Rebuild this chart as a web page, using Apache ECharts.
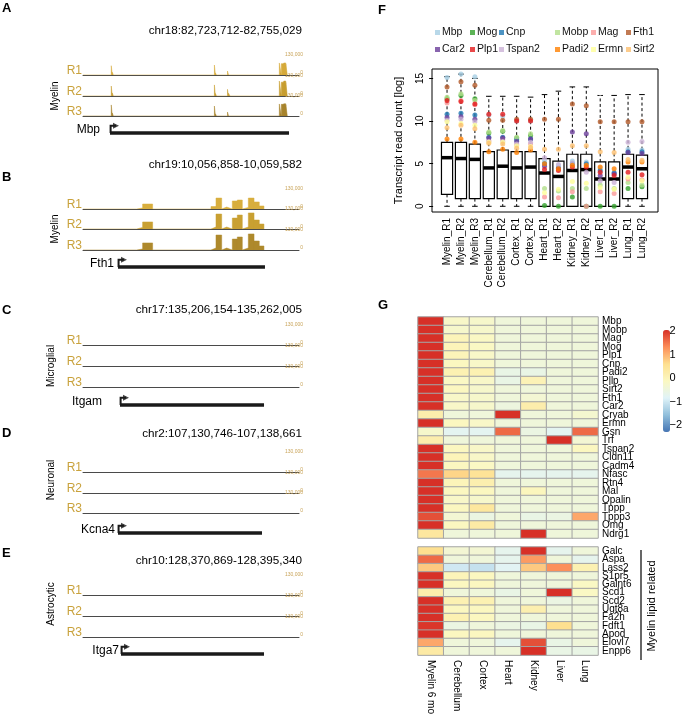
<!DOCTYPE html>
<html>
<head>
<meta charset="utf-8">
<script src="https://cdn.jsdelivr.net/npm/echarts@6/dist/echarts.min.js"></script>
<style>
  html, body { margin: 0; padding: 0; background: #fff; }
  #chart { width: 685px; height: 717px; }
</style>
</head>
<body>
<div id="chart"></div>
<script>
// ---------- A-E: coverage tracks (bp offsets from region start, counts) ----------
const regionNames = ['chr18:82,723,712-82,755,029', 'chr19:10,056,858-10,059,582', 'chr17:135,206,154-135,262,005', 'chr2:107,130,746-107,138,661', 'chr10:128,370,869-128,395,340']
const regionSpans = [31317, 2724, 55851, 7915, 24471]
const trackGenes = ['Mbp', 'Fth1', 'Itgam', 'Kcna4', 'Itga7']
const geneStarts = [3915, 441, 9568, 1282, 4305]
const geneEnds = [29870, 2295, 46807, 6559, 20507]
const cellTypes = ['Myelin', 'Myelin', 'Microglial', 'Neuronal', 'Astrocytic']
const repNames = ['R1', 'R2', 'R3']
const trackMax = 130000

const mbpBins = [[4100, 4250], [4250, 4400], [19050, 19200], [19200, 19350], [20950, 21100], [21100, 21300], [24150, 24300], [28464, 28750], [28750, 29100], [29100, 29400], [29400, 29624]]
const mbpR1 = [67000, 20000, 72000, 15000, 29000, 14000, 7000, 87000, 82000, 87000, 80000]
const mbpR2 = [72000, 22000, 80000, 18000, 48000, 20000, 10000, 108000, 100000, 108000, 98000]
const mbpR3 = [80000, 22000, 72000, 15000, 29000, 14000, 7000, 87000, 84000, 88000, 82000]

const fth1Bins = [[677, 752], [752, 878], [1614, 1677], [1677, 1749], [1749, 1812], [1883, 1946], [1946, 2009], [2009, 2085], [2085, 2157], [2157, 2223], [2223, 2282]]
const fth1R1 = [7000, 36000, 18000, 79000, 14000, 58000, 65000, 11000, 79000, 51000, 22000]
const fth1R2 = [11000, 51000, 14000, 108000, 14000, 79000, 101000, 14000, 116000, 65000, 36000]
const fth1R3 = [7000, 51000, 14000, 108000, 14000, 79000, 94000, 14000, 116000, 65000, 29000]

// ---------- F: transcript counts ----------
const sampleNames = ['Myelin_R1', 'Myelin_R2', 'Myelin_R3', 'Cerebellum_R1', 'Cerebellum_R2', 'Cortex_R1', 'Cortex_R2', 'Heart_R1', 'Heart_R2', 'Kidney_R1', 'Kidney_R2', 'Liver_R1', 'Liver_R2', 'Lung_R1', 'Lung_R2']
const boxMin = [0, 0, 0, 0, 0, 0, 0, 0, 0, 0, 0, 0, 0, 0, 0]
const boxQ1 = [1.4, 0.9, 0.9, 0.9, 0.9, 0.9, 0.9, 0, 0, 0, 0, 0, 0, 0.9, 0.9]
const boxMedian = [5.7, 5.6, 5.5, 4.5, 4.7, 4.5, 4.6, 3.9, 3.5, 4.2, 4.3, 3.2, 3.2, 4.6, 4.4]
const boxQ3 = [7.5, 7.5, 7.3, 6.4, 6.6, 6.4, 6.4, 5.6, 5.3, 6.1, 6.1, 5.2, 5.2, 6.1, 6.0]
const boxMax = [15.2, 15.5, 15.0, 12.9, 12.9, 12.9, 12.8, 13.1, 13.5, 14.0, 14.0, 13.0, 13.0, 13.1, 13.1]
const outlierSample = [12, 13]
const outlierValue = [13.3, 13.5]

const dotMbp = [15.1, 15.5, 15.2, 10.7, 10.6, 10.0, 10.0, 5.3, 4.8, 5.3, 5.2, 4.5, 4.0, 6.7, 6.6]
const dotMog = [12.6, 13.0, 12.6, 8.6, 8.8, 8.0, 8.3, 0.1, 0.0, 1.1, 0.0, 0.0, 0.0, 2.1, 2.3]
const dotCnp = [10.8, 10.9, 10.7, 8.1, 8.1, 7.8, 7.9, 5.0, 4.5, 5.0, 5.0, 4.2, 3.9, 6.4, 6.4]
const dotMobp = [12.8, 13.2, 12.4, 8.7, 8.9, 8.1, 8.5, 2.1, 1.8, 2.1, 2.1, 2.5, 2.1, 2.8, 2.5]
const dotMag = [12.1, 12.4, 11.9, 7.7, 7.8, 7.2, 7.3, 1.1, 1.0, 1.7, 0.0, 1.7, 1.5, 3.2, 3.1]
const dotFth1 = [14.0, 14.6, 14.2, 10.1, 10.1, 10.2, 10.2, 10.2, 10.2, 12.0, 11.8, 9.9, 9.9, 9.9, 9.9]
const dotCar2 = [10.4, 10.5, 10.2, 8.0, 8.0, 7.6, 7.9, 4.7, 4.4, 8.7, 8.5, 3.6, 3.8, 6.3, 6.2]
const dotPlp1 = [12.4, 12.3, 12.0, 10.8, 10.8, 10.0, 10.0, 4.3, 4.2, 4.6, 4.6, 4.0, 3.6, 4.0, 3.7]
const dotTspan2 = [10.1, 10.2, 9.9, 7.6, 7.6, 7.3, 7.5, 5.7, 4.9, 5.1, 4.0, 3.0, 2.8, 7.5, 7.6]
const dotPadi2 = [7.9, 7.9, 7.5, 6.4, 6.7, 6.3, 6.6, 5.0, 4.4, 4.8, 4.8, 4.6, 4.4, 5.2, 5.2]
const dotErmn = [9.9, 9.7, 9.5, 7.5, 7.5, 7.1, 7.0, 1.6, 2.0, 2.9, 2.7, 2.2, 2.0, 3.4, 3.0]
const dotSirt2 = [9.2, 9.5, 9.1, 7.4, 7.3, 6.8, 6.9, 6.7, 6.7, 7.1, 7.1, 6.4, 6.3, 5.5, 5.4]
const dotGenes = ['Mbp', 'Mog', 'Cnp', 'Mobp', 'Mag', 'Fth1', 'Car2', 'Plp1', 'Tspan2', 'Padi2', 'Ermn', 'Sirt2']
const dotValues = [dotMbp, dotMog, dotCnp, dotMobp, dotMag, dotFth1, dotCar2, dotPlp1, dotTspan2, dotPadi2, dotErmn, dotSirt2]

// ---------- G: z-scores ----------
const tissues = ['Myelin 6 mo', 'Cerebellum', 'Cortex', 'Heart', 'Kidney', 'Liver', 'Lung']
const topGenes = ['Mbp', 'Mobp', 'Mag', 'Mog', 'Plp1', 'Cnp', 'Padi2', 'Pllp', 'Sirt2', 'Fth1', 'Car2', 'Cryab', 'Ermn', 'Gsn', 'Trf', 'Tspan2', 'Cldn11', 'Cadm4', 'Nfasc', 'Rtn4', 'Mal', 'Opalin', 'Tppp', 'Tppp3', 'Omg', 'Ndrg1']
const topZ = [
  [2.3, -0.2, -0.25, -0.45, -0.45, -0.45, -0.45],
  [2.3, -0.25, -0.25, -0.45, -0.45, -0.45, -0.45],
  [2.3, 0.0, -0.15, -0.45, -0.45, -0.45, -0.45],
  [2.3, 0.0, -0.15, -0.45, -0.45, -0.45, -0.45],
  [2.3, 0.0, -0.2, -0.45, -0.45, -0.45, -0.45],
  [2.3, -0.1, -0.2, -0.45, -0.45, -0.45, -0.45],
  [2.2, 0.1, 0.1, -0.6, -0.6, -0.45, -0.45],
  [2.3, -0.15, -0.2, -0.6, 0.05, -0.45, -0.45],
  [2.3, -0.1, -0.25, -0.45, -0.45, -0.45, -0.45],
  [2.2, -0.2, -0.25, -0.45, -0.35, -0.45, -0.45],
  [2.2, -0.2, -0.25, -0.5, 0.2, -0.45, -0.45],
  [0.2, -0.45, -0.45, 2.3, -0.45, -0.45, -0.3],
  [2.3, -0.1, -0.2, -0.45, -0.45, -0.45, -0.45],
  [-0.25, -0.75, -0.75, 1.6, -0.55, -0.75, 1.6],
  [0.2, -0.45, -0.45, -0.45, -0.45, 2.3, -0.35],
  [2.3, -0.1, -0.2, -0.45, -0.45, -0.45, -0.1],
  [2.3, 0.0, -0.2, -0.45, -0.45, -0.45, -0.45],
  [2.3, -0.1, -0.15, -0.45, -0.45, -0.45, -0.45],
  [1.5, 0.7, 0.5, -0.7, -0.7, -0.7, -0.7],
  [2.2, 0.0, 0.15, -0.45, -0.45, -0.45, -0.45],
  [2.3, -0.1, -0.1, -0.45, -0.05, -0.45, -0.45],
  [2.3, -0.2, -0.25, -0.45, -0.45, -0.45, -0.45],
  [2.3, -0.1, 0.4, -0.45, -0.45, -0.45, -0.45],
  [1.8, -0.35, -0.55, -0.45, -0.6, -0.55, 1.1],
  [2.3, -0.1, 0.3, -0.45, -0.45, -0.45, -0.45],
  [0.4, -0.45, -0.45, -0.45, 2.3, -0.45, -0.45],
]
const lipidGenes = ['Galc', 'Aspa', 'Lass2', 'S1pr5', 'Galnt6', 'Scd1', 'Scd2', 'Ugt8a', 'Fa2h', 'Fdft1', 'Apod', 'Elovl7', 'Enpp6']
const lipidZ = [
  [0.6, -0.35, -0.35, -0.7, 2.3, -0.7, -0.45],
  [1.6, -0.45, -0.45, -0.7, 1.2, -0.45, -0.7],
  [0.8, -1.0, -1.1, -0.8, 0.8, 1.3, 0.1],
  [2.3, 0.0, -0.1, -0.45, -0.45, -0.45, -0.45],
  [2.3, -0.1, -0.1, -0.45, -0.45, -0.45, -0.15],
  [0.2, -0.45, -0.45, -0.6, -0.45, 2.3, -0.15],
  [2.2, 0.1, 0.1, -0.45, -0.45, -0.55, -0.45],
  [2.3, -0.1, -0.1, -0.45, 0.15, -0.45, -0.45],
  [2.3, 0.1, -0.1, -0.45, -0.45, -0.45, -0.45],
  [2.0, -0.55, -0.45, -0.55, -0.6, 0.6, -0.45],
  [2.3, -0.1, -0.1, -0.45, -0.45, -0.45, -0.45],
  [1.1, -0.45, -0.45, -0.7, 1.8, -0.6, -0.45],
  [0.3, -0.45, -0.45, -0.45, 2.3, -0.6, -0.6],
]
const colorTicks = [-2, -1, 0, 1, 2]

// ---------- layout / styles ----------
const FONT = 'Liberation Sans, Arial, sans-serif'
const trackBins = [mbpBins, fth1Bins, [], [], []]
const trackReps = [[mbpR1, mbpR2, mbpR3], [fth1R1, fth1R2, fth1R3], [[], [], []], [[], [], []], [[], [], []]]
const baseY = [[75, 96, 116], [209, 229, 250], [345, 366, 387], [472, 493, 513], [595, 616, 637]]
const geneY = [133, 267, 405, 533, 654]
const titleY = [31, 165, 310, 434, 561]
const letterY = [8, 177, 310, 433, 553]
const cellX = [55, 55, 51, 51, 51]
const cellY = [96, 229, 366, 480, 604]
const geneLabelRight = [100, 114, 102, 115, 119]
const repColors = [['#d6ab3a', '#c89e30', '#a8852e'], ['#d8ae3e', '#c9a032', '#ae892c']]
const trackLeft = 83
const trackWidth = 216
const trackHeight = 18
const dotColors = {
  Mbp: '#a6cee3', Mog: '#33a02c', Cnp: '#1f78b4', Mobp: '#b2df8a', Mag: '#fb9a99', Fth1: '#b15928',
  Car2: '#6a3d9a', Plp1: '#e31a1c', Tspan2: '#cab2d6', Padi2: '#ff7f00', Ermn: '#ffff99', Sirt2: '#fdbf6f',
}
const legendCols = [['Mbp', 'Car2'], ['Mog', 'Plp1'], ['Cnp', 'Tspan2'], ['Mobp', 'Padi2'], ['Mag', 'Ermn'], ['Fth1', 'Sirt2']]
const legendX = [435, 470, 499, 555, 591, 626]

const chart = echarts.init(document.getElementById('chart'))
const grid = []
const xAxis = []
const yAxis = []
const series = []
const graphic = []

function addGrid(g, xa, ya) {
  grid.push(g)
  const i = grid.length - 1
  xAxis.push(Object.assign({ gridIndex: i }, xa))
  yAxis.push(Object.assign({ gridIndex: i }, ya))
  return i
}

function text(str, x, y, opts) {
  graphic.push({
    type: 'text',
    x,
    y,
    rotation: opts.rotation || 0,
    style: {
      text: str,
      font: opts.font || `12px ${FONT}`,
      fill: opts.fill || '#000',
      textAlign: opts.align || 'left',
      textVerticalAlign: 'middle',
    },
  })
}

function coverage(bins, heights) {
  const pts = [[0, 0]]
  bins.forEach((b, i) => {
    pts.push([b[0], 0], [b[0], heights[i]], [b[1], heights[i]], [b[1], 0])
  })
  return pts
}

const hiddenAxis = { show: false }

// tracks A-E
regionNames.forEach((region, p) => {
  const span = regionSpans[p]
  text('ABCDE'[p], 2, letterY[p], { font: `bold 13px ${FONT}` })
  text(region, 302, titleY[p], { align: 'right', font: `11.7px ${FONT}` })
  text(cellTypes[p], cellX[p], cellY[p], { align: 'center', rotation: Math.PI / 2, font: `10px ${FONT}` })

  repNames.forEach((rep, r) => {
    const base = baseY[p][r]
    const gi = addGrid(
      { left: trackLeft, top: base - trackHeight, width: trackWidth, height: trackHeight },
      {
        type: 'value', min: 0, max: span,
        axisLine: { show: true, lineStyle: { color: '#4a4a4a', width: 1 } },
        axisTick: { show: false }, axisLabel: { show: false }, splitLine: { show: false },
      },
      {
        type: 'value', min: 0, max: trackMax, interval: trackMax, position: 'right',
        axisLine: { show: false }, axisTick: { show: false }, splitLine: { show: false },
        axisLabel: { fontSize: 5, color: '#c9a45a', align: 'right', verticalAlign: 'bottom', margin: 4, fontFamily: FONT },
      },
    )
    text(rep, 82, base - 4, { align: 'right', fill: '#c9a23c', font: `12px ${FONT}` })
    if (trackBins[p].length) {
      const col = repColors[p][r]
      series.push({
        type: 'line',
        xAxisIndex: gi,
        yAxisIndex: gi,
        data: coverage(trackBins[p], trackReps[p][r]),
        symbol: 'none',
        lineStyle: { width: 0.5, color: col },
        areaStyle: { color: col, opacity: 1 },
        silent: true,
      })
    }
  })

  // gene model
  const gy = geneY[p]
  const gi = addGrid(
    { left: trackLeft, top: gy - 9, width: trackWidth, height: 12 },
    Object.assign({ type: 'value', min: 0, max: span }, hiddenAxis),
    Object.assign({ type: 'value', min: 0, max: 1 }, hiddenAxis),
  )
  const headLen = (6 * span) / trackWidth
  series.push({
    type: 'line', xAxisIndex: gi, yAxisIndex: gi, symbol: 'none', silent: true,
    lineStyle: { width: 3.5, color: '#1a1a1a', cap: 'butt' },
    data: [[geneStarts[p], 0.25], [geneEnds[p], 0.25]],
  })
  series.push({
    type: 'line', xAxisIndex: gi, yAxisIndex: gi, symbol: 'none', silent: true,
    lineStyle: { width: 2, color: '#1a1a1a', join: 'miter' },
    data: [[geneStarts[p] + headLen * 0.1, 0.25], [geneStarts[p] + headLen * 0.1, 0.85], [geneStarts[p] + headLen, 0.85]],
  })
  series.push({
    type: 'scatter', xAxisIndex: gi, yAxisIndex: gi, silent: true,
    symbol: 'triangle', symbolRotate: -90, symbolSize: [6, 6],
    itemStyle: { color: '#1a1a1a' },
    data: [[geneStarts[p] + headLen, 0.85]],
  })
  text(trackGenes[p], geneLabelRight[p], gy - 3, { align: 'right', font: `12px ${FONT}` })
})

// F: box plot
text('F', 378, 10, { font: `bold 13px ${FONT}` })
const boxGrid = addGrid(
  { left: 432, top: 69, width: 226, height: 143, show: true, borderColor: '#000', borderWidth: 1 },
  {
    type: 'value', min: -0.08, max: 16.15,
    axisLine: { show: false }, axisTick: { show: false }, splitLine: { show: false },
    axisLabel: {
      customValues: sampleNames.map((_, i) => i + 1),
      formatter: (v) => sampleNames[Math.round(v) - 1],
      rotate: 90, fontSize: 10, margin: 6, color: '#000', fontFamily: FONT,
    },
  },
  {
    type: 'value', min: -0.67, max: 16.1,
    name: 'Transcript read count [log]', nameLocation: 'middle', nameGap: 28,
    nameTextStyle: { fontSize: 11, color: '#000', fontFamily: FONT },
    axisLine: { show: false }, splitLine: { show: false },
    axisTick: { show: true, customValues: [0, 5, 10, 15], length: 4, lineStyle: { color: '#000' } },
    axisLabel: { customValues: [0, 5, 10, 15], rotate: 90, fontSize: 10, margin: 7, color: '#000', fontFamily: FONT },
  },
)
const boxWidth = 0.8
series.push({
  type: 'custom',
  xAxisIndex: boxGrid,
  yAxisIndex: boxGrid,
  z: 2,
  silent: true,
  encode: { x: 0, y: [1, 5] },
  data: sampleNames.map((_, i) => [i + 1, boxMin[i], boxQ1[i], boxMedian[i], boxQ3[i], boxMax[i]]),
  renderItem(params, api) {
    const x = api.value(0)
    const lo = api.coord([x, api.value(1)])
    const q1 = api.coord([x, api.value(2)])
    const md = api.coord([x, api.value(3)])
    const q3 = api.coord([x, api.value(4)])
    const hi = api.coord([x, api.value(5)])
    const w = api.size([boxWidth, 0])[0]
    const cx = q1[0]
    const dash = { stroke: '#000', lineWidth: 1, lineDash: [3, 2.5] }
    const solid = { stroke: '#000', lineWidth: 1 }
    const children = [
      { type: 'line', shape: { x1: cx, y1: q3[1], x2: cx, y2: hi[1] }, style: dash },
      { type: 'line', shape: { x1: cx - w / 4, y1: hi[1], x2: cx + w / 4, y2: hi[1] }, style: solid },
    ]
    if (api.value(2) > api.value(1)) {
      children.push({ type: 'line', shape: { x1: cx, y1: q1[1], x2: cx, y2: lo[1] }, style: dash })
      children.push({ type: 'line', shape: { x1: cx - w / 4, y1: lo[1], x2: cx + w / 4, y2: lo[1] }, style: solid })
    }
    children.push({
      type: 'rect',
      shape: { x: cx - w / 2, y: q3[1], width: w, height: q1[1] - q3[1] },
      style: { fill: '#fff', stroke: '#000', lineWidth: 1.2 },
    })
    children.push({ type: 'line', shape: { x1: cx - w / 2, y1: md[1], x2: cx + w / 2, y2: md[1] }, style: { stroke: '#000', lineWidth: 3.5 } })
    return { type: 'group', children }
  },
})
dotGenes.forEach((g, k) => {
  series.push({
    name: g,
    type: 'scatter',
    xAxisIndex: boxGrid,
    yAxisIndex: boxGrid,
    z: 3,
    symbolSize: 5,
    itemStyle: { color: dotColors[g] },
    data: dotValues[k].map((v, i) => [i + 1, v]),
  })
})
series.push({
  type: 'scatter', xAxisIndex: boxGrid, yAxisIndex: boxGrid, z: 3,
  symbol: 'emptyCircle', symbolSize: 3.5,
  itemStyle: { color: '#fff', borderColor: '#000', borderWidth: 1 },
  data: outlierSample.map((s, i) => [s, outlierValue[i]]),
})
const legend = legendCols.map((names, c) => ({
  orient: 'vertical',
  left: legendX[c],
  top: 27,
  padding: 0,
  itemGap: 6,
  itemWidth: 5,
  itemHeight: 5,
  icon: 'rect',
  selectedMode: false,
  textStyle: { fontSize: 10.5, color: '#111', padding: [0, 0, 0, -3], fontFamily: FONT },
  data: names,
}))

// G: heatmap
text('G', 378, 305, { font: `bold 13px ${FONT}` })
const heatIdx = []
;[[topGenes, topZ, 317, 221, false], [lipidGenes, lipidZ, 547, 110, true]].forEach(([genes, z, top, h, showX]) => {
  const gi = addGrid(
    { left: 418, top, width: 180, height: h },
    {
      type: 'category', data: tissues,
      axisLine: { show: false }, axisTick: { show: false },
      axisLabel: { show: showX, interval: 0, rotate: -90, fontSize: 10, margin: 5, color: '#000', fontFamily: FONT },
    },
    {
      type: 'category', data: genes, inverse: true, position: 'right',
      axisLine: { show: false }, axisTick: { show: false },
      axisLabel: { interval: 0, fontSize: 10, lineHeight: 9, margin: 4, color: '#000', fontFamily: FONT },
    },
  )
  const data = []
  z.forEach((row, r) => row.forEach((v, c) => data.push([c, r, v])))
  heatIdx.push(series.length)
  series.push({
    type: 'heatmap', xAxisIndex: gi, yAxisIndex: gi, data, silent: true,
    itemStyle: { borderColor: '#a4a4a4', borderWidth: 1 },
  })
})
// colour key axis
addGrid(
  { left: 663, top: 330, width: 7, height: 102 },
  Object.assign({ type: 'value', min: 0, max: 1 }, hiddenAxis),
  {
    type: 'value', min: -2.3, max: 2.05, position: 'right',
    axisLine: { show: false }, axisTick: { show: false }, splitLine: { show: false },
    axisLabel: { customValues: colorTicks, fontSize: 11, margin: 3, color: '#000', fontFamily: FONT, formatter: (v) => String(v).replace('-', '\u2212') },
  },
)
graphic.push({ type: 'line', shape: { x1: 641, y1: 550, x2: 641, y2: 660 }, style: { stroke: '#000', lineWidth: 1.2 } })
text('Myelin lipid related', 652, 606, { align: 'center', rotation: Math.PI / 2, font: `11px ${FONT}` })

chart.setOption({
  animation: false,
  backgroundColor: '#fff',
  textStyle: { fontFamily: FONT },
  grid,
  xAxis,
  yAxis,
  legend,
  visualMap: {
    type: 'continuous',
    min: -2.3,
    max: 2.05,
    seriesIndex: heatIdx,
    left: 663,
    top: 330,
    itemWidth: 7,
    itemHeight: 102,
    padding: 0,
    calculable: false,
    showLabel: false,
    inRange: { color: ['#4575b4', '#91bfdb', '#e0f3f8', '#fbf8c2', '#fee090', '#fc8d59', '#d73027'] },
  },
  series,
  graphic,
})
</script>
</body>
</html>
